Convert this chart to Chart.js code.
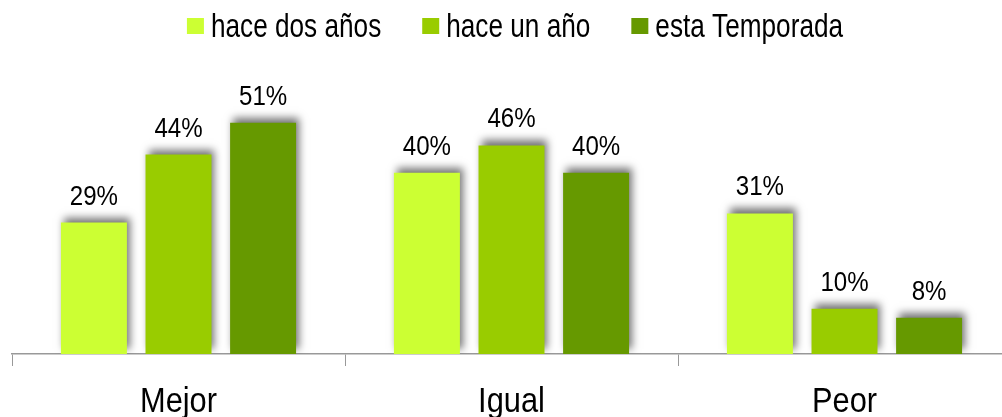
<!DOCTYPE html>
<html>
<head>
<meta charset="utf-8">
<script src="https://cdn.jsdelivr.net/npm/chart.js@4/dist/chart.umd.min.js"></script>
<style>
  html, body { margin: 0; padding: 0; background: #fff; overflow: hidden; }
  #wrap { width: 1011px; height: 417px; position: relative; }
</style>
</head>
<body>
<div id="wrap"><canvas id="chart"></canvas></div>
<script>
// Chart data
const categories = ['Mejor', 'Igual', 'Peor'];
const seriesNames = ['hace dos años', 'hace un año', 'esta Temporada'];
const twoYearsAgo = [29, 40, 31];
const oneYearAgo = [44, 46, 10];
const thisSeason = [51, 40, 8];
const seriesColors = ['#CCFF33', '#99CC00', '#669900'];

const FONT = '"Liberation Sans", Arial, sans-serif';

// Draw narrow-looking text by squeezing it horizontally
function drawNarrow(ctx, text, x, y, size, squeeze, align) {
  ctx.save();
  ctx.font = size + 'px ' + FONT;
  ctx.textAlign = align || 'center';
  ctx.textBaseline = 'alphabetic';
  ctx.translate(x, y);
  ctx.scale(squeeze, 1);
  ctx.fillText(text, 0, 0);
  ctx.restore();
}

function narrowWidth(ctx, text, size, squeeze) {
  ctx.save();
  ctx.font = size + 'px ' + FONT;
  const w = ctx.measureText(text).width * squeeze;
  ctx.restore();
  return w;
}

// Soft shadow behind the bars
const barShadow = {
  id: 'barShadow',
  beforeDatasetsDraw(chart) {
    const ctx = chart.ctx;
    ctx.save();
    ctx.shadowColor = 'rgba(0, 0, 0, 0.55)';
    ctx.shadowBlur = 8;
    ctx.shadowOffsetX = 3;
    ctx.shadowOffsetY = -5;
  },
  afterDatasetsDraw(chart) {
    chart.ctx.restore();
  }
};

// Percent labels above bars, category names under the axis, legend on top
const textLayer = {
  id: 'textLayer',
  afterDatasetsDraw(chart) {
    const ctx = chart.ctx;
    ctx.fillStyle = '#000';

    chart.data.datasets.forEach((ds, i) => {
      chart.getDatasetMeta(i).data.forEach((bar, j) => {
        drawNarrow(ctx, ds.data[j] + '%', bar.x, bar.y - 18, 28, 0.86);
      });
    });

    const xScale = chart.scales.x;
    categories.forEach((name, i) => {
      ctx.fillStyle = '#000';
      drawNarrow(ctx, name, xScale.getPixelForValue(i), 412, 35, 0.88);
    });

    // legend, centred on the visible 1002px window
    const size = 34, sq = 0.77, box = 17, gapText = 7, gapItem = 41;
    const widths = seriesNames.map(n => narrowWidth(ctx, n, size, sq));
    let total = 0;
    widths.forEach((w, i) => { total += box + gapText + w + (i < widths.length - 1 ? gapItem : 0); });
    let x = 1002 / 2 - total / 2 + 14;
    seriesNames.forEach((n, i) => {
      ctx.fillStyle = seriesColors[i];
      ctx.fillRect(x, 18, box, 16);
      x += box + gapText;
      ctx.fillStyle = '#000';
      drawNarrow(ctx, n, x, 37, size, sq, 'left');
      x += widths[i] + gapItem;
    });
  }
};

new Chart(document.getElementById('chart'), {
  type: 'bar',
  data: {
    labels: categories,
    datasets: [
      { label: seriesNames[0], data: twoYearsAgo, backgroundColor: seriesColors[0] },
      { label: seriesNames[1], data: oneYearAgo, backgroundColor: seriesColors[1] },
      { label: seriesNames[2], data: thisSeason, backgroundColor: seriesColors[2] }
    ]
  },
  options: {
    responsive: true,
    maintainAspectRatio: false,
    animation: false,
    layout: { padding: { left: 12, right: 0, top: 82, bottom: 51 } },
    datasets: {
      bar: { categoryPercentage: 0.762, barPercentage: 0.78 }
    },
    plugins: {
      legend: { display: false },
      tooltip: { enabled: false }
    },
    scales: {
      x: {
        grid: {
          display: true,
          drawOnChartArea: false,
          drawTicks: true,
          tickLength: 12,
          color: '#999'
        },
        border: { display: true, color: '#999', width: 1.5 },
        ticks: { display: false }
      },
      y: {
        display: false,
        min: 0,
        max: 60
      }
    }
  },
  plugins: [barShadow, textLayer]
});
</script>
</body>
</html>
